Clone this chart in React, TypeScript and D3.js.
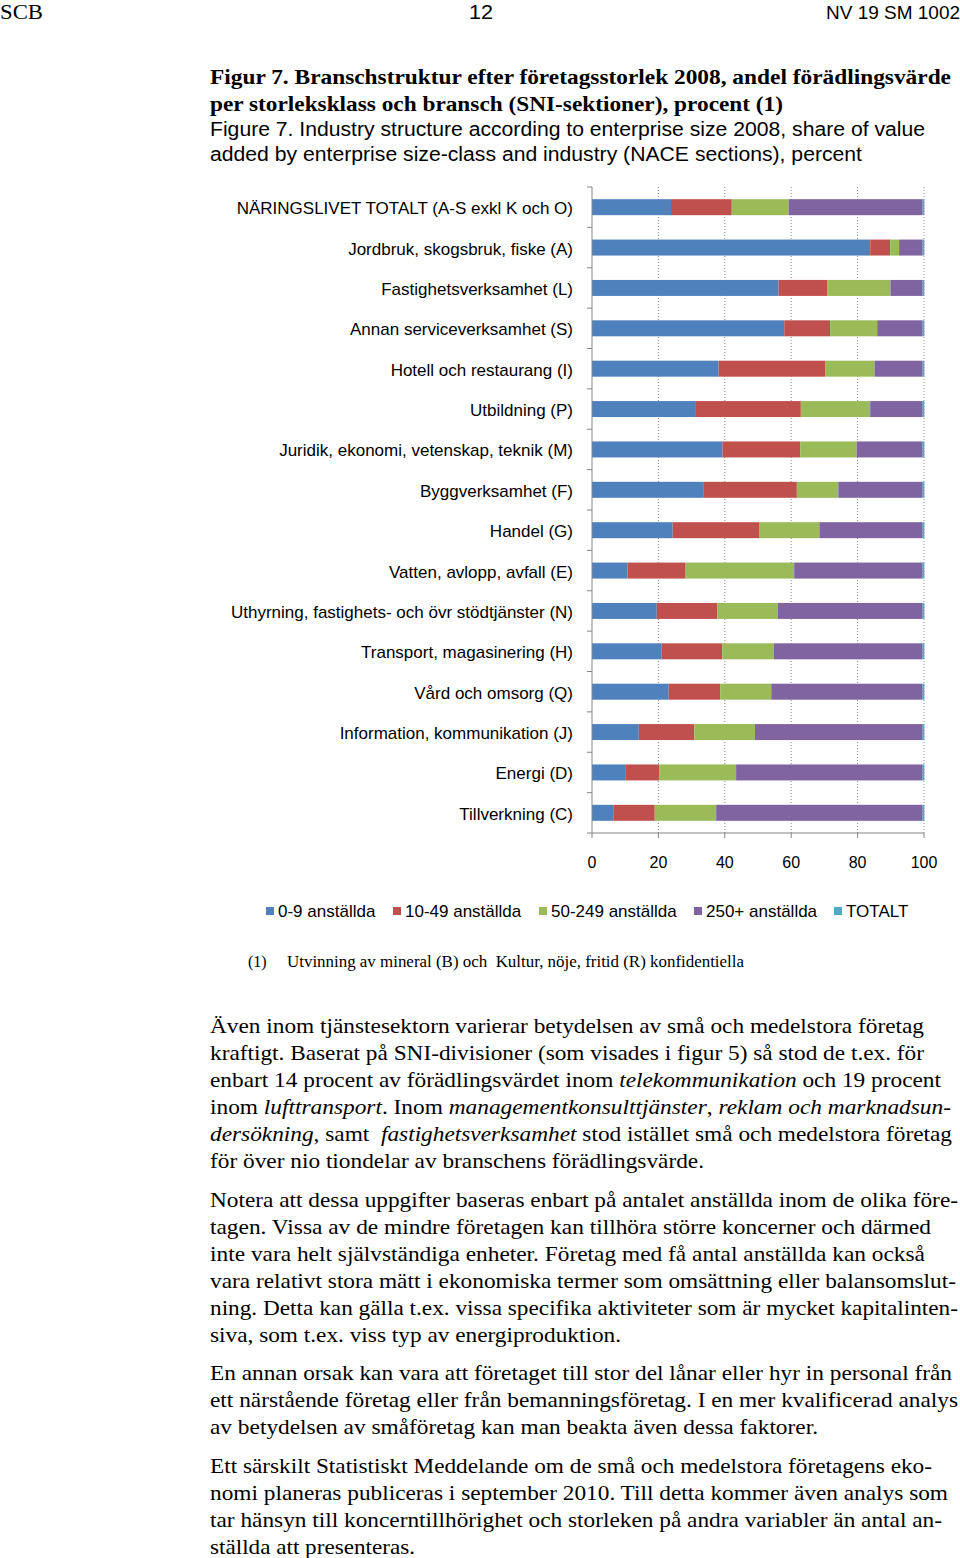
import React from "react";
import * as d3 from "d3";

const categories = [
  "NÄRINGSLIVET TOTALT (A-S exkl K och O)",
  "Jordbruk, skogsbruk, fiske (A)",
  "Fastighetsverksamhet (L)",
  "Annan serviceverksamhet (S)",
  "Hotell och restaurang (I)",
  "Utbildning (P)",
  "Juridik, ekonomi, vetenskap, teknik (M)",
  "Byggverksamhet (F)",
  "Handel (G)",
  "Vatten, avlopp, avfall (E)",
  "Uthyrning, fastighets- och övr stödtjänster (N)",
  "Transport, magasinering (H)",
  "Vård och omsorg (Q)",
  "Information, kommunikation (J)",
  "Energi (D)",
  "Tillverkning (C)",
];

const seriesNames = ["0-9 anställda", "10-49 anställda", "50-249 anställda", "250+ anställda", "TOTALT"];
const seriesColors = ["#4F81BD", "#C0504D", "#9BBB59", "#8064A2", "#4BACC6"];

const s0_9 = [23.8, 83.8, 56.2, 57.9, 38.1, 31.3, 39.3, 33.7, 24.3, 10.7, 19.5, 21.0, 23.1, 14.1, 10.0, 6.4];
const s10_49 = [18.3, 6.0, 14.6, 13.8, 32.1, 31.6, 23.4, 28.0, 26.0, 17.5, 18.3, 18.2, 15.5, 16.7, 10.2, 12.5];
const s50_249 = [17.1, 2.7, 19.1, 14.2, 14.9, 20.9, 17.0, 12.5, 18.2, 32.7, 18.2, 15.6, 15.4, 18.3, 23.2, 18.5];
const s250 = [40.4, 7.1, 9.7, 13.7, 14.5, 15.8, 19.9, 25.4, 31.1, 38.7, 43.6, 44.8, 45.6, 50.5, 56.2, 62.2];
const sTotalt = [0.5, 0.5, 0.5, 0.5, 0.5, 0.5, 0.5, 0.5, 0.5, 0.5, 0.5, 0.5, 0.5, 0.5, 0.5, 0.5];

const xTicks = [0, 20, 40, 60, 80, 100];

type Seg = { t: string; i?: boolean };
type Line = { segs: Seg[]; end: number };

const body: Line[][] = [
  [
    { segs: [{ t: "Även inom tjänstesektorn varierar betydelsen av små och medelstora företag" }], end: 924 },
    { segs: [{ t: "kraftigt. Baserat på SNI-divisioner (som visades i figur 5) så stod de t.ex. för" }], end: 924 },
    { segs: [{ t: "enbart 14 procent av förädlingsvärdet inom " }, { t: "telekommunikation", i: true }, { t: " och 19 procent" }], end: 941 },
    { segs: [{ t: "inom " }, { t: "lufttransport", i: true }, { t: ". Inom " }, { t: "managementkonsulttjänster", i: true }, { t: ", " }, { t: "reklam och marknadsun-", i: true }], end: 951 },
    { segs: [{ t: "dersökning", i: true }, { t: ", samt  " }, { t: "fastighetsverksamhet", i: true }, { t: " stod istället små och medelstora företag" }], end: 952 },
    { segs: [{ t: "för över nio tiondelar av branschens förädlingsvärde." }], end: 704 },
  ],
  [
    { segs: [{ t: "Notera att dessa uppgifter baseras enbart på antalet anställda inom de olika före-" }], end: 958 },
    { segs: [{ t: "tagen. Vissa av de mindre företagen kan tillhöra större koncerner och därmed" }], end: 931 },
    { segs: [{ t: "inte vara helt självständiga enheter. Företag med få antal anställda kan också" }], end: 925 },
    { segs: [{ t: "vara relativt stora mätt i ekonomiska termer som omsättning eller balansomslut-" }], end: 956 },
    { segs: [{ t: "ning. Detta kan gälla t.ex. vissa specifika aktiviteter som är mycket kapitalinten-" }], end: 958 },
    { segs: [{ t: "siva, som t.ex. viss typ av energiproduktion." }], end: 621 },
  ],
  [
    { segs: [{ t: "En annan orsak kan vara att företaget till stor del lånar eller hyr in personal från" }], end: 952 },
    { segs: [{ t: "ett närstående företag eller från bemanningsföretag. I en mer kvalificerad analys" }], end: 958 },
    { segs: [{ t: "av betydelsen av småföretag kan man beakta även dessa faktorer." }], end: 818 },
  ],
  [
    { segs: [{ t: "Ett särskilt Statistiskt Meddelande om de små och medelstora företagens eko-" }], end: 932 },
    { segs: [{ t: "nomi planeras publiceras i september 2010. Till detta kommer även analys som" }], end: 948 },
    { segs: [{ t: "tar hänsyn till koncerntillhörighet och storleken på andra variabler än antal an-" }], end: 942 },
    { segs: [{ t: "ställda att presenteras." }], end: 415 },
  ],
];
const paraStarts = [1033, 1207, 1380, 1473];

const SERIF = "'Liberation Serif', 'Times New Roman', serif";
const SANS = "'Liberation Sans', Arial, sans-serif";

export default function App() {
  const W = 960;
  const H = 1558;
  const x = d3.scaleLinear().domain([0, 100]).range([592, 924]);
  const y = d3.scaleBand<string>().domain(categories).range([187, 833]).paddingInner(0.604).paddingOuter(0.302);
  const step = y.step();

  const rows = categories.map((c, i) => ({
    cat: c,
    [seriesNames[0]]: s0_9[i],
    [seriesNames[1]]: s10_49[i],
    [seriesNames[2]]: s50_249[i],
    [seriesNames[3]]: s250[i],
    [seriesNames[4]]: sTotalt[i],
  }));
  const stacked = d3.stack<any>().keys(seriesNames)(rows);

  const boundaries = d3.range(categories.length + 1).map((k) => 187 + k * step);

  const legendX = [266, 393, 539, 694, 834];

  return (
    <svg width={W} height={H} style={{ position: "absolute", left: 0, top: 0, background: "#fff" }}>
      {/* header */}
      <text x={0} y={19} fontFamily={SERIF} fontSize={21} textLength={43} lengthAdjust="spacingAndGlyphs">SCB</text>
      <text x={469} y={19} fontFamily={SANS} fontSize={20} textLength={24} lengthAdjust="spacingAndGlyphs">12</text>
      <text x={826} y={19} fontFamily={SANS} fontSize={19} textLength={134} lengthAdjust="spacingAndGlyphs">NV 19 SM 1002</text>

      {/* titles */}
      <text x={210} y={84} fontFamily={SERIF} fontWeight="bold" fontSize={21} textLength={741} lengthAdjust="spacingAndGlyphs">
        Figur 7. Branschstruktur efter företagsstorlek 2008, andel förädlingsvärde
      </text>
      <text x={210} y={111} fontFamily={SERIF} fontWeight="bold" fontSize={21} textLength={573} lengthAdjust="spacingAndGlyphs">
        per storleksklass och bransch (SNI-sektioner), procent (1)
      </text>
      <text x={210} y={136} fontFamily={SANS} fontSize={20} textLength={715} lengthAdjust="spacingAndGlyphs">
        Figure 7. Industry structure according to enterprise size 2008, share of value
      </text>
      <text x={210} y={161} fontFamily={SANS} fontSize={20} textLength={652} lengthAdjust="spacingAndGlyphs">
        added by enterprise size-class and industry (NACE sections), percent
      </text>

      {/* gridlines */}
      {xTicks.filter((t) => t > 0).map((t) => (
        <line key={"g" + t} x1={x(t)} x2={x(t)} y1={187} y2={833} stroke="#8a8a8a" strokeWidth={1} strokeDasharray="1,2" />
      ))}

      {/* bars */}
      {stacked.map((layer, si) => (
        <g key={layer.key} fill={seriesColors[si]}>
          {layer.map((d, ci) => (
            <rect key={ci} x={x(d[0])} y={y(categories[ci])} width={Math.max(0, x(d[1]) - x(d[0]))} height={y.bandwidth()} />
          ))}
        </g>
      ))}

      {/* axes */}
      <line x1={592} x2={592} y1={187} y2={833} stroke="#868686" strokeWidth={1} />
      {boundaries.map((b, k) => (
        <line key={"b" + k} x1={587} x2={592} y1={b} y2={b} stroke="#868686" strokeWidth={1} />
      ))}
      <line x1={592} x2={924} y1={833} y2={833} stroke="#868686" strokeWidth={1} />
      {xTicks.map((t) => (
        <g key={"t" + t}>
          <line x1={x(t)} x2={x(t)} y1={833} y2={838} stroke="#868686" strokeWidth={1} />
          <text x={x(t)} y={868} textAnchor="middle" fontFamily={SANS} fontSize={16} fill="#000">{t}</text>
        </g>
      ))}

      {/* category labels */}
      {categories.map((c) => (
        <text key={c} x={573} y={(y(c) as number) + y.bandwidth() / 2 + 7} textAnchor="end" fontFamily={SANS} fontSize={17} fill="#000">
          {c}
        </text>
      ))}

      {/* legend */}
      {seriesNames.map((s, i) => (
        <g key={s}>
          <rect x={legendX[i]} y={907} width={8} height={8} fill={seriesColors[i]} />
          <text x={legendX[i] + 12} y={917} fontFamily={SANS} fontSize={17} fill="#000">{s}</text>
        </g>
      ))}

      {/* footnote */}
      <text x={248} y={967} fontFamily={SERIF} fontSize={16}>(1)</text>
      <text x={287} y={967} fontFamily={SERIF} fontSize={16} textLength={457} lengthAdjust="spacingAndGlyphs" style={{ whiteSpace: "pre" }}>
        Utvinning av mineral (B) och  Kultur, nöje, fritid (R) konfidentiella
      </text>

      {/* body */}
      {body.map((para, pi) =>
        para.map((line, li) => (
          <text
            key={pi + "-" + li}
            x={210}
            y={paraStarts[pi] + li * 26.9}
            fontFamily={SERIF}
            fontSize={22}
            textLength={line.end - 210}
            lengthAdjust="spacingAndGlyphs"
            style={{ whiteSpace: "pre" }}
          >
            {line.segs.map((s, si) => (
              <tspan key={si} fontStyle={s.i ? "italic" : "normal"}>{s.t}</tspan>
            ))}
          </text>
        ))
      )}
    </svg>
  );
}
